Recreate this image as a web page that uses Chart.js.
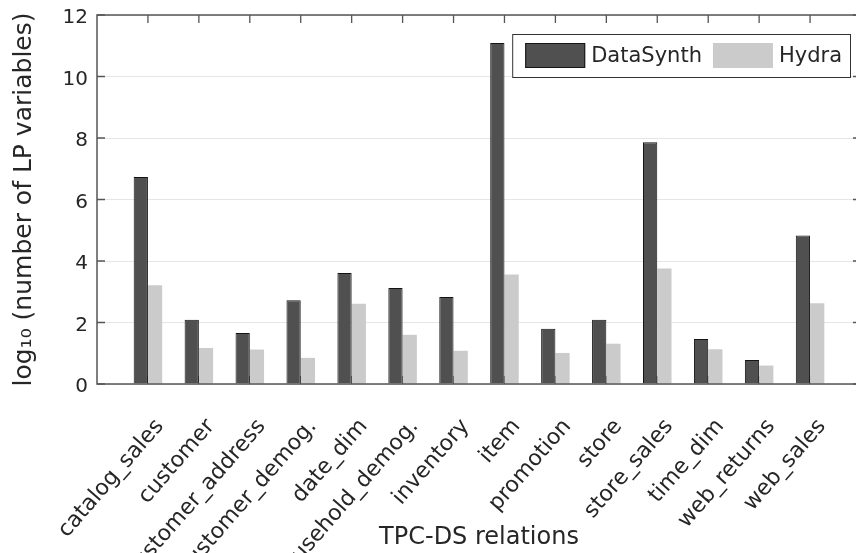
<!DOCTYPE html>
<html>
<head>
<meta charset="utf-8">
<script src="https://cdn.jsdelivr.net/npm/chart.js@4.4.1/dist/chart.umd.min.js"></script>
<style>
  html, body { margin: 0; padding: 0; background: #fff; overflow: hidden; }
  #wrap { width: 856px; height: 553px; overflow: hidden; }
</style>
</head>
<body>
<div id="wrap"><canvas id="chart" width="866" height="553"></canvas></div>
<script>
// TPC-DS relations on the x axis
const relations = ['catalog_sales', 'customer', 'customer_address', 'customer_demog.', 'date_dim',
  'household_demog.', 'inventory', 'item', 'promotion', 'store', 'store_sales', 'time_dim',
  'web_returns', 'web_sales'];

// log10 of number of LP variables
const dataSynth = [6.73, 2.09, 1.66, 2.72, 3.61, 3.12, 2.83, 11.09, 1.80, 2.09, 7.86, 1.46, 0.78, 4.83];
const hydra = [3.21, 1.17, 1.12, 0.85, 2.61, 1.60, 1.08, 3.56, 1.01, 1.31, 3.76, 1.13, 0.60, 2.63];

const yMin = 0, yMax = 12, yStep = 2;

const FONT = '"DejaVu Sans", "Liberation Sans", sans-serif';
const TEXT = '#262626';
const AXIS = '#555555';

// matlab style box with inward tick marks
const frame = {
  id: 'frame',
  beforeDatasetsDraw(chart) {
    const { ctx, chartArea: a, scales: { x, y } } = chart;
    ctx.save();
    ctx.strokeStyle = AXIS;
    ctx.lineWidth = 1.3;
    ctx.beginPath();
    x.ticks.forEach(t => {
      if (!relations[t.value - 1]) return;
      const px = x.getPixelForValue(t.value);
      ctx.moveTo(px, a.top); ctx.lineTo(px, a.top + 8);
      ctx.moveTo(px, a.bottom); ctx.lineTo(px, a.bottom - 8);
    });
    y.ticks.forEach(t => {
      const py = y.getPixelForValue(t.value);
      ctx.moveTo(a.left, py); ctx.lineTo(a.left + 8, py);
      ctx.moveTo(a.right, py); ctx.lineTo(a.right - 8, py);
    });
    ctx.stroke();
    ctx.restore();
  },
  afterDatasetsDraw(chart) {
    const { ctx, chartArea: a } = chart;
    ctx.save();
    ctx.strokeStyle = AXIS;
    ctx.lineWidth = 1.5;
    ctx.strokeRect(a.left, a.top, a.right - a.left, a.bottom - a.top);
    ctx.restore();
  }
};

// legend box in the upper right corner of the axes
const boxLegend = {
  id: 'boxLegend',
  afterDraw(chart) {
    const { ctx, chartArea } = chart;
    ctx.save();
    ctx.font = '21px ' + FONT;
    const sw = 60, sh = 25, padL = 13, padR = 8, gapText = 6, gapItem = 11, height = 43;
    const items = chart.data.datasets.map(ds => ({
      label: ds.label,
      fill: ds.backgroundColor,
      stroke: ds.borderWidth ? ds.borderColor : null,
      w: ctx.measureText(ds.label).width
    }));
    let width = padL + padR;
    items.forEach((it, i) => { width += sw + gapText + it.w + (i < items.length - 1 ? gapItem : 0); });
    const right = chartArea.right - 11;
    const top = chartArea.top + 19;
    const left = right - width;
    ctx.fillStyle = '#ffffff';
    ctx.fillRect(left, top, width, height);
    ctx.strokeStyle = '#333333';
    ctx.lineWidth = 1;
    ctx.strokeRect(left + 0.5, top + 0.5, width, height);
    const cy = top + height / 2;
    let x = left + padL;
    items.forEach(it => {
      ctx.fillStyle = it.fill;
      ctx.fillRect(x, cy - sh / 2, sw, sh);
      if (it.stroke) {
        ctx.strokeStyle = it.stroke;
        ctx.strokeRect(x + 0.5, cy - sh / 2 + 0.5, sw - 1, sh - 1);
      }
      x += sw + gapText;
      ctx.fillStyle = TEXT;
      ctx.textBaseline = 'middle';
      ctx.textAlign = 'left';
      ctx.fillText(it.label, x, cy + 1);
      x += it.w + gapItem;
    });
    ctx.restore();
  }
};

new Chart(document.getElementById('chart'), {
  type: 'bar',
  data: {
    datasets: [
      {
        label: 'DataSynth',
        data: relations.map((r, i) => ({ x: i + 1, y: dataSynth[i] })),
        backgroundColor: '#505050',
        borderColor: '#141414',
        borderWidth: 1,
        categoryPercentage: 0.56,
        barPercentage: 1
      },
      {
        label: 'Hydra',
        data: relations.map((r, i) => ({ x: i + 1, y: hydra[i] })),
        backgroundColor: '#cbcbcb',
        borderWidth: 0,
        categoryPercentage: 0.56,
        barPercentage: 1
      }
    ]
  },
  options: {
    responsive: false,
    animation: false,
    devicePixelRatio: 1,
    layout: { padding: { top: 15, right: 5, left: 0, bottom: 0 } },
    plugins: {
      legend: { display: false },
      tooltip: { enabled: false }
    },
    scales: {
      x: {
        type: 'linear',
        min: 0,
        max: 15,
        offset: false,
        grid: { display: false },
        border: { display: false },
        ticks: {
          stepSize: 1,
          autoSkip: false,
          maxRotation: 49,
          minRotation: 49,
          padding: 22,
          labelOffset: 12,
          color: TEXT,
          font: { family: FONT, size: 22 },
          callback: v => relations[v - 1] || ''
        },
        title: {
          display: true,
          text: 'TPC-DS relations',
          color: TEXT,
          font: { family: FONT, size: 24 },
          padding: { top: 0, bottom: 1 }
        },
        afterFit: s => {
          s.height = 169;
          s.paddingLeft = 0;
          s.paddingRight = 0;
        }
      },
      y: {
        min: yMin,
        max: yMax,
        grid: { color: '#e6e6e6', drawTicks: false },
        border: { display: false },
        ticks: {
          stepSize: yStep,
          padding: 9,
          labelOffset: 3,
          color: TEXT,
          font: { family: FONT, size: 20 }
        },
        title: {
          display: true,
          text: 'log\u2081\u2080 (number of LP variables)',
          color: TEXT,
          font: { family: FONT, size: 25 },
          padding: { top: 9, bottom: 0 }
        },
        afterFit: s => {
          s.width = 97;
          s.paddingTop = 0;
          s.paddingBottom = 0;
        }
      }
    }
  },
  plugins: [frame, boxLegend]
});
</script>
</body>
</html>
